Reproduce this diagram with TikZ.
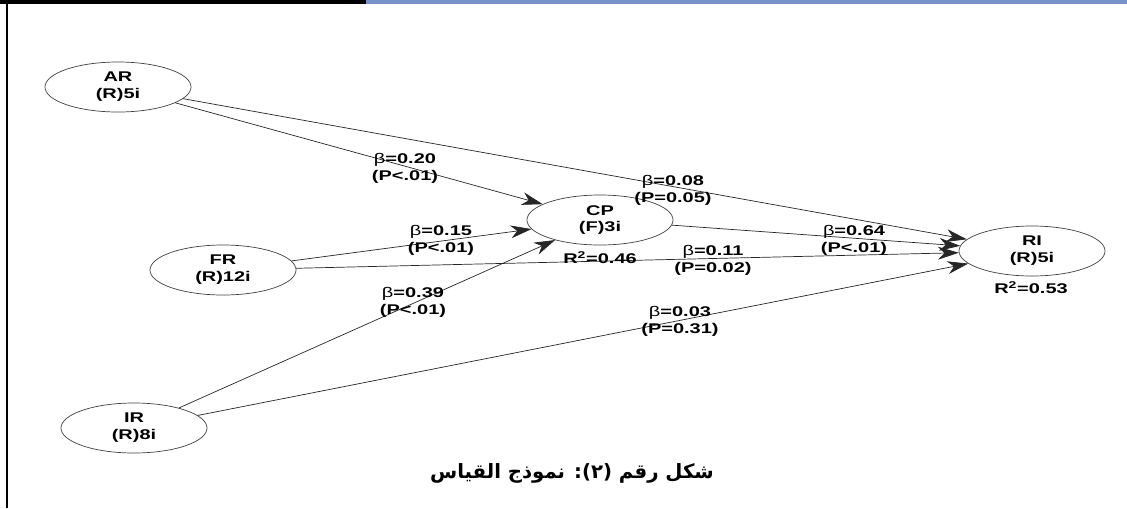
\documentclass[tikz,border=0pt]{standalone}
\usepackage{fontspec}
\setmainfont{Liberation Sans}[FakeStretch=1.42]
\newfontfamily\arabicfont[Script=Arabic]{DejaVu Sans}
\TeXXeTstate=1
\usetikzlibrary{shapes.geometric,arrows.meta}
\definecolor{tableblue}{RGB}{120,145,200}

\begin{document}
\begin{tikzpicture}[x=0.025cm, y=-0.025cm,
  construct/.style={ellipse, draw=black!75, line width=0.5pt,
    minimum width=3.65cm, minimum height=1.25cm, inner sep=0pt,
    align=center, font=\fontsize{10}{12}\selectfont\bfseries},
  coef/.style={align=center, inner sep=0pt,
    font=\fontsize{10}{12}\selectfont\bfseries},
  link/.style={draw=black!85, line width=0.5pt,
    -{Stealth[length=5.2mm, width=3.2mm, inset=1.6mm]}}]

  %% Page frame and table border.
  \useasboundingbox (0,0) rectangle (1127,508);
  \draw[line width=2.2pt] (0,2) -- (366,2);
  \draw[tableblue, line width=2.2pt] (366,2) -- (1127,2);
  \draw[line width=0.8pt] (93,0) -- (93,3) (187,0) -- (187,3) (255,0) -- (255,3);
  \draw[line width=1.2pt] (7,1) -- (7,508);


  %% The constructs:
  \node[construct] (AR) at (118,87) {AR\\(R)5i};
  \node[construct] (FR) at (223,270) {FR\\(R)12i};
  \node[construct] (IR) at (134,428) {IR\\(R)8i};
  \node[construct] (CP) at (600,220) {CP\\(F)3i};
  \node[construct] (RI) at (1032,251) {RI\\(R)5i};


  %% The paths:
  \draw[link] (AR) -- (CP);
  \draw[link] (FR) -- (CP);
  \draw[link] (IR) -- (CP);
  \draw[link] (AR) -- (RI);
  \draw[link] (FR) -- (RI);
  \draw[link] (IR) -- (RI);
  \draw[link] (CP) -- (RI);


  %% Path coefficients
  \node[coef] (arcp) at (405,168) {{\mdseries β}=0.20\\(P<.01)};
  \node[coef] (frcp) at (441,240) {{\mdseries β}=0.15\\(P<.01)};
  \node[coef] (ircp) at (413,302) {{\mdseries β}=0.39\\(P<.01)};
  \node[coef] (arri) at (673,190) {{\mdseries β}=0.08\\(P=0.05)};
  \node[coef] (cpri) at (854,240) {{\mdseries β}=0.64\\(P<.01)};
  \node[coef] (frri) at (713,260) {{\mdseries β}=0.11\\(P=0.02)};
  \node[coef] (irri) at (680,321) {{\mdseries β}=0.03\\(P=0.31)};

  %% Explained variance
  \node[coef] (cpr2) at (600,258) {R\textsuperscript{2}=0.46};
  \node[coef] (rir2) at (1031,288) {R\textsuperscript{2}=0.53};


  %% Caption
  \node (caption) at (572,473)
  {\arabicfont\bfseries\fontsize{14}{16}\selectfont\beginR شكل رقم (٢): نموذج القياس\endR};

\end{tikzpicture}
\end{document}
